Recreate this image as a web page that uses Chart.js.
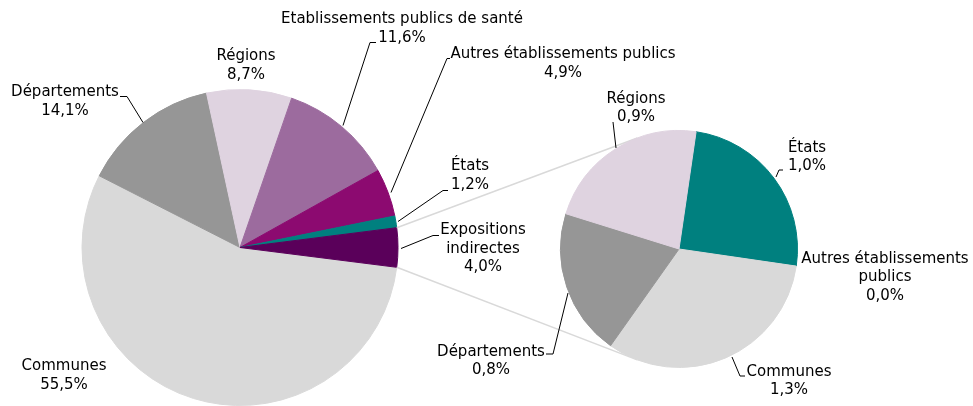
<!DOCTYPE html>
<html>
<head>
<meta charset="utf-8">
<script src="https://cdn.jsdelivr.net/npm/chart.js@4.4.0/dist/chart.umd.min.js"></script>
<style>
  html, body { margin: 0; padding: 0; background: #fff; }
  #wrap { position: relative; width: 973px; height: 406px; }
  #wrap canvas { position: absolute; left: 0; top: 0; }
</style>
</head>
<body>
<div id="wrap">
  <canvas id="main" width="973" height="406"></canvas>
  <canvas id="sub" width="973" height="406"></canvas>
</div>
<script>
// camembert principal
const mainLabels = ["Communes", "Départements", "Régions", "Etablissements publics de santé",
  "Autres établissements publics", "États", "Expositions indirectes"];
const mainValues = [55.5, 14.1, 8.7, 11.6, 4.9, 1.2, 4.0];
const mainColors = ["#d9d9d9", "#969696", "#dfd3e0", "#9c6b9e", "#8c0a70", "#00807f", "#5a005a"];

// détail des expositions indirectes
const subLabels = ["États", "Autres établissements publics", "Communes", "Départements", "Régions"];
const subValues = [1.0, 0.0, 1.3, 0.8, 0.9];
const subColors = ["#00807f", "#8c0a70", "#d9d9d9", "#969696", "#dfd3e0"];

const FONT = '15px "DejaVu Sans", Verdana, sans-serif';
const LINE_H = 18.5;

// position des étiquettes, relative au centre du camembert
const mainLabelPos = [
  { dx: -176, dy: 119 },
  { dx: -175, dy: -155, leader: [[-120, -151], [-113, -151], [-97, -125]] },
  { dx: 6, dy: -191 },
  { dx: 162, dy: -228, leader: [[136, -205], [130, -205], [103, -122]] },
  { dx: 323, dy: -193, leader: [[210, -189], [207, -189], [151, -55]] },
  { dx: 230, dy: -81, leader: [[208, -57], [203, -57], [158, -26]] },
  { dx: 243, dy: -17, wrap: 100, leader: [[199, -12], [193, -12], [161, 1]] }
];
const subLabelPos = [
  { dx: 128, dy: -101, leader: [[104, -79], [100, -79], [97, -72]] },
  { dx: 206, dy: 10, wrap: 180 },
  { dx: 110, dy: 123, leader: [[66, 127], [61, 127], [53, 108]] },
  { dx: -188, dy: 103, leader: [[-133, 105], [-126, 105], [-111, 44]] },
  { dx: -43, dy: -150, leader: [[-66, -127], [-63, -101]] }
];

function pct(v) {
  return v.toFixed(1).replace(".", ",") + "%";
}

function wrapText(ctx, text, maxW) {
  if (!maxW) return [text];
  const words = text.split(" ");
  const lines = [];
  let cur = "";
  words.forEach((w) => {
    const test = cur ? cur + " " + w : w;
    if (cur && ctx.measureText(test).width > maxW) {
      lines.push(cur);
      cur = w;
    } else {
      cur = test;
    }
  });
  if (cur) lines.push(cur);
  return lines;
}

const sliceLabels = {
  id: "sliceLabels",
  afterDatasetsDraw(chart, args, opts) {
    const ctx = chart.ctx;
    const meta = chart.getDatasetMeta(0);
    const cx = meta.data[0].x;
    const cy = meta.data[0].y;
    const labels = chart.data.labels;
    const values = chart.data.datasets[0].data;
    ctx.save();
    ctx.font = FONT;
    ctx.fillStyle = "#000";
    ctx.strokeStyle = "#000";
    ctx.lineWidth = 1;
    ctx.textAlign = "center";
    ctx.textBaseline = "middle";
    opts.pos.forEach((p, i) => {
      if (p.leader) {
        ctx.beginPath();
        p.leader.forEach((pt, k) => {
          const x = cx + pt[0], y = cy + pt[1];
          if (k === 0) ctx.moveTo(x, y); else ctx.lineTo(x, y);
        });
        ctx.stroke();
      }
      const lines = wrapText(ctx, labels[i], p.wrap).concat([pct(values[i])]);
      lines.forEach((t, k) => {
        ctx.fillText(t, cx + p.dx, cy + p.dy + k * LINE_H);
      });
    });
    ctx.restore();
  }
};

const mainChart = new Chart(document.getElementById("main"), {
  type: "pie",
  data: {
    labels: mainLabels,
    datasets: [{
      data: mainValues,
      backgroundColor: mainColors,
      borderColor: mainColors,
      borderWidth: 1
    }]
  },
  options: {
    responsive: false,
    animation: false,
    rotation: 97.2,
    layout: { padding: { left: 81, right: 574, top: 89, bottom: 0 } },
    events: [],
    plugins: {
      legend: { display: false },
      tooltip: { enabled: false },
      sliceLabels: { pos: mainLabelPos }
    }
  },
  plugins: [sliceLabels]
});

// traits de liaison entre les deux camemberts
const connectors = {
  id: "connectors",
  beforeDatasetsDraw(chart) {
    const ctx = chart.ctx;
    const arc = mainChart.getDatasetMeta(0).data[mainLabels.length - 1];
    const sub = chart.getDatasetMeta(0).data[0];
    const r1 = arc.outerRadius;
    const r2 = sub.outerRadius;
    const ang = (deg) => (deg - 90) * Math.PI / 180;
    const from = [arc.startAngle, arc.endAngle];
    const to = [ang(339.4), ang(200.6)];
    ctx.save();
    ctx.strokeStyle = "#d9d9d9";
    ctx.lineWidth = 1.5;
    for (let k = 0; k < 2; k++) {
      ctx.beginPath();
      ctx.moveTo(arc.x + r1 * Math.cos(from[k]), arc.y + r1 * Math.sin(from[k]));
      ctx.lineTo(sub.x + r2 * Math.cos(to[k]), sub.y + r2 * Math.sin(to[k]));
      ctx.stroke();
    }
    ctx.restore();
  }
};

new Chart(document.getElementById("sub"), {
  type: "pie",
  data: {
    labels: subLabels,
    datasets: [{
      data: subValues,
      backgroundColor: subColors,
      borderColor: subColors,
      borderWidth: subValues.map((v) => (v > 0 ? 1 : 0))
    }]
  },
  options: {
    responsive: false,
    animation: false,
    rotation: 8.3,
    layout: { padding: { left: 560, right: 175, top: 130, bottom: 38 } },
    events: [],
    plugins: {
      legend: { display: false },
      tooltip: { enabled: false },
      sliceLabels: { pos: subLabelPos }
    }
  },
  plugins: [connectors, sliceLabels]
});
</script>
</body>
</html>
